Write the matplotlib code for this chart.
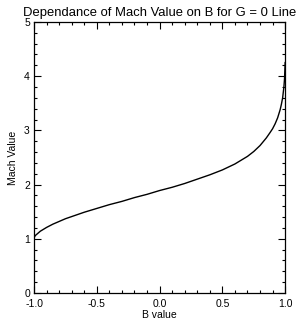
import numpy as np
import matplotlib.pyplot as plt
from matplotlib.ticker import MultipleLocator

plt.rcParams['font.family'] = ['Liberation Sans', 'DejaVu Sans']

# values
b_val = [-1.0, -0.99, -0.97, -0.95, -0.9, -0.85, -0.8, -0.75, -0.7, -0.6,
         -0.5, -0.4, -0.3, -0.2, -0.1, 0.0, 0.1, 0.2, 0.3, 0.4, 0.5, 0.6,
         0.7, 0.75, 0.8, 0.85, 0.88, 0.9, 0.92, 0.94, 0.96, 0.97, 0.98,
         0.99, 0.995, 1.0]
mach = [1.02, 1.06, 1.1, 1.14, 1.21, 1.27, 1.32, 1.37, 1.41, 1.49,
        1.56, 1.63, 1.69, 1.76, 1.82, 1.89, 1.95, 2.02, 2.1, 2.18, 2.27, 2.38,
        2.52, 2.61, 2.72, 2.86, 2.96, 3.03, 3.12, 3.23, 3.38, 3.48, 3.6,
        3.8, 3.95, 4.25]

xticks = [-1.0, -0.5, 0.0, 0.5, 1.0]
yticks = [0, 1, 2, 3, 4, 5]

fig = plt.figure(figsize=(3.04, 3.22), dpi=100)
ax = fig.add_axes([0.112, 0.090, 0.826, 0.842])

ax.plot(b_val, mach, color='black', lw=1.0)

ax.set_xlim(-1, 1)
ax.set_ylim(0, 5)
ax.set_xticks(xticks)
ax.set_xticklabels(['%.1f' % v for v in xticks])
ax.set_yticks(yticks)
ax.set_yticklabels([str(v) for v in yticks])
ax.xaxis.set_minor_locator(MultipleLocator(0.1))
ax.yaxis.set_minor_locator(MultipleLocator(0.2))

ax.tick_params(which='both', direction='in', top=True, right=True,
               width=0.8, labelsize=7.5, colors='black')
ax.tick_params(which='major', length=5)
ax.tick_params(axis='x', which='major', pad=4)
ax.tick_params(axis='y', which='major', pad=3)
ax.tick_params(which='minor', length=2.5)
for s in ax.spines.values():
    s.set_linewidth(0.9)

ax.set_xlabel('B value', fontsize=7.5, labelpad=1)
ax.set_ylabel('Mach Value', fontsize=7.5, labelpad=4)
ax.set_title('Dependance of Mach Value on B for G = 0 Line', fontsize=9.4, pad=4)

plt.savefig('out.png', dpi=100)
